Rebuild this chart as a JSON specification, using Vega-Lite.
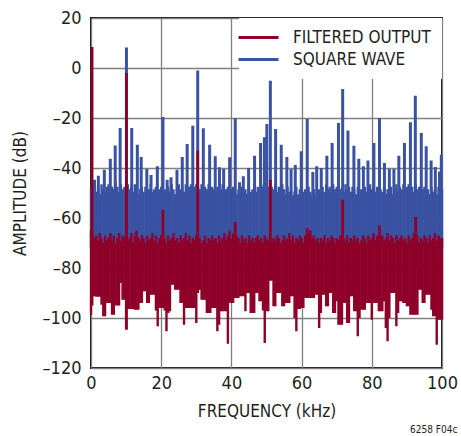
{
"$schema": "https://vega.github.io/schema/vega-lite/v6.json",
"width": 351, "height": 350,
"autosize": {"type": "none"},
"padding": {"left": 91, "top": 18, "right": 19, "bottom": 68},
"background": "white",
"title": {"text": "6258 F04c", "orient": "bottom", "anchor": "end", "fontSize": 10, "font": "DejaVu Sans Condensed, Liberation Sans, sans-serif", "fontWeight": "normal", "color": "#231f20", "offset": 6},
"config": {
  "view": {"stroke": "#111111", "strokeWidth": 2},
  "axis": {"grid": true, "gridColor": "#808080", "gridWidth": 1.3, "ticks": false, "domain": false, "labelFont": "DejaVu Sans Condensed, Liberation Sans, sans-serif", "labelFontSize": 18, "labelColor": "#231f20", "titleFont": "DejaVu Sans Condensed, Liberation Sans, sans-serif", "titleFontSize": 17, "titleFontWeight": "normal", "titleColor": "#231f20"},
  "legend": {"orient": "top-right", "offset": 0, "fillColor": "white", "padding": 11, "labelFont": "DejaVu Sans Condensed, Liberation Sans, sans-serif", "labelFontSize": 17, "labelColor": "#231f20", "labelLimit": 300, "symbolType": "M-4,0H4", "symbolStrokeWidth": 3, "symbolSize": 100, "labelOffset": 26, "rowPadding": 4}
},
"datasets": {
"squareFloor": [
{"f":0,"hi":-47.5},{"f":0.5,"hi":-46.5},{"f":1,"hi":-48.5},{"f":1.5,"hi":-49.5},{"f":2,"hi":-47.5},{"f":2.5,"hi":-50.5},{"f":3,"hi":-46.5},{"f":3.5,"hi":-48.5},{"f":4,"hi":-49.5},{"f":4.5,"hi":-47.5},
{"f":5,"hi":-46.5},{"f":5.5,"hi":-49.5},{"f":6,"hi":-47.5},{"f":6.5,"hi":-48.5},{"f":7,"hi":-45.5},{"f":7.5,"hi":-47.5},{"f":8,"hi":-49.5},{"f":8.5,"hi":-46.5},{"f":9,"hi":-48.5},{"f":9.5,"hi":-47.5},
{"f":10,"hi":-47.5},{"f":10.5,"hi":-46.5},{"f":11,"hi":-48.5},{"f":11.5,"hi":-47.5},{"f":12,"hi":-49.5},{"f":12.5,"hi":-46.5},{"f":13,"hi":-47.5},{"f":13.5,"hi":-50.5},{"f":14,"hi":-48.5},{"f":14.5,"hi":-47.5},
{"f":15,"hi":-49.5},{"f":15.5,"hi":-47.5},{"f":16,"hi":-50.5},{"f":16.5,"hi":-48.5},{"f":17,"hi":-46.5},{"f":17.5,"hi":-49.5},{"f":18,"hi":-48.5},{"f":18.5,"hi":-47.5},{"f":19,"hi":-50.5},{"f":19.5,"hi":-48.5},
{"f":20,"hi":-47.5},{"f":20.5,"hi":-49.5},{"f":21,"hi":-48.5},{"f":21.5,"hi":-50.5},{"f":22,"hi":-47.5},{"f":22.5,"hi":-49.5},{"f":23,"hi":-46.5},{"f":23.5,"hi":-48.5},{"f":24,"hi":-50.5},{"f":24.5,"hi":-48.5},
{"f":25,"hi":-46.5},{"f":25.5,"hi":-48.5},{"f":26,"hi":-47.5},{"f":26.5,"hi":-49.5},{"f":27,"hi":-46.5},{"f":27.5,"hi":-48.5},{"f":28,"hi":-47.5},{"f":28.5,"hi":-46.5},{"f":29,"hi":-48.5},{"f":29.5,"hi":-47.5},
{"f":30,"hi":-46.5},{"f":30.5,"hi":-47.5},{"f":31,"hi":-48.5},{"f":31.5,"hi":-46.5},{"f":32,"hi":-49.5},{"f":32.5,"hi":-47.5},{"f":33,"hi":-48.5},{"f":33.5,"hi":-46.5},{"f":34,"hi":-49.5},{"f":34.5,"hi":-47.5},
{"f":35,"hi":-48.5},{"f":35.5,"hi":-50.5},{"f":36,"hi":-47.5},{"f":36.5,"hi":-49.5},{"f":37,"hi":-48.5},{"f":37.5,"hi":-46.5},{"f":38,"hi":-50.5},{"f":38.5,"hi":-48.5},{"f":39,"hi":-47.5},{"f":39.5,"hi":-49.5},
{"f":40,"hi":-48.5},{"f":40.5,"hi":-47.5},{"f":41,"hi":-49.5},{"f":41.5,"hi":-50.5},{"f":42,"hi":-48.5},{"f":42.5,"hi":-51},{"f":43,"hi":-47.5},{"f":43.5,"hi":-49.5},{"f":44,"hi":-48.5},{"f":44.5,"hi":-50.5},
{"f":45,"hi":-47.5},{"f":45.5,"hi":-49.5},{"f":46,"hi":-48.5},{"f":46.5,"hi":-46.5},{"f":47,"hi":-49.5},{"f":47.5,"hi":-47.5},{"f":48,"hi":-48.5},{"f":48.5,"hi":-46.5},{"f":49,"hi":-47.5},{"f":49.5,"hi":-48.5},
{"f":50,"hi":-46.5},{"f":50.5,"hi":-47.5},{"f":51,"hi":-49.5},{"f":51.5,"hi":-47.5},{"f":52,"hi":-48.5},{"f":52.5,"hi":-46.5},{"f":53,"hi":-49.5},{"f":53.5,"hi":-47.5},{"f":54,"hi":-48.5},{"f":54.5,"hi":-46.5},
{"f":55,"hi":-48.5},{"f":55.5,"hi":-50.5},{"f":56,"hi":-47.5},{"f":56.5,"hi":-49.5},{"f":57,"hi":-48.5},{"f":57.5,"hi":-51},{"f":58,"hi":-49.5},{"f":58.5,"hi":-47.5},{"f":59,"hi":-50.5},{"f":59.5,"hi":-48.5},
{"f":60,"hi":-47.5},{"f":60.5,"hi":-49.5},{"f":61,"hi":-48.5},{"f":61.5,"hi":-50.5},{"f":62,"hi":-47.5},{"f":62.5,"hi":-49.5},{"f":63,"hi":-51},{"f":63.5,"hi":-48.5},{"f":64,"hi":-50.5},{"f":64.5,"hi":-49.5},
{"f":65,"hi":-48.5},{"f":65.5,"hi":-50.5},{"f":66,"hi":-47.5},{"f":66.5,"hi":-49.5},{"f":67,"hi":-46.5},{"f":67.5,"hi":-48.5},{"f":68,"hi":-47.5},{"f":68.5,"hi":-49.5},{"f":69,"hi":-46.5},{"f":69.5,"hi":-48.5},
{"f":70,"hi":-47.5},{"f":70.5,"hi":-46.5},{"f":71,"hi":-48.5},{"f":71.5,"hi":-47.5},{"f":72,"hi":-49.5},{"f":72.5,"hi":-46.5},{"f":73,"hi":-48.5},{"f":73.5,"hi":-47.5},{"f":74,"hi":-49.5},{"f":74.5,"hi":-47.5},
{"f":75,"hi":-48.5},{"f":75.5,"hi":-50.5},{"f":76,"hi":-47.5},{"f":76.5,"hi":-49.5},{"f":77,"hi":-48.5},{"f":77.5,"hi":-50.5},{"f":78,"hi":-47.5},{"f":78.5,"hi":-49.5},{"f":79,"hi":-48.5},{"f":79.5,"hi":-46.5},
{"f":80,"hi":-48.5},{"f":80.5,"hi":-47.5},{"f":81,"hi":-49.5},{"f":81.5,"hi":-47.5},{"f":82,"hi":-50.5},{"f":82.5,"hi":-48.5},{"f":83,"hi":-49.5},{"f":83.5,"hi":-47.5},{"f":84,"hi":-50.5},{"f":84.5,"hi":-48.5},
{"f":85,"hi":-49.5},{"f":85.5,"hi":-47.5},{"f":86,"hi":-50.5},{"f":86.5,"hi":-48.5},{"f":87,"hi":-46.5},{"f":87.5,"hi":-49.5},{"f":88,"hi":-47.5},{"f":88.5,"hi":-48.5},{"f":89,"hi":-46.5},{"f":89.5,"hi":-48.5},
{"f":90,"hi":-47.5},{"f":90.5,"hi":-46.5},{"f":91,"hi":-48.5},{"f":91.5,"hi":-47.5},{"f":92,"hi":-49.5},{"f":92.5,"hi":-46.5},{"f":93,"hi":-48.5},{"f":93.5,"hi":-47.5},{"f":94,"hi":-49.5},{"f":94.5,"hi":-48.5},
{"f":95,"hi":-47.5},{"f":95.5,"hi":-49.5},{"f":96,"hi":-48.5},{"f":96.5,"hi":-50.5},{"f":97,"hi":-47.5},{"f":97.5,"hi":-49.5},{"f":98,"hi":-48.5},{"f":98.5,"hi":-50.5},{"f":99,"hi":-47.5},{"f":99.5,"hi":-49.5},
{"f":100,"hi":-48.5}
],
"squareSpikes": [
{"f":1.0,"hi":-44.7},{"f":2.1,"hi":-43.1},{"f":3.8,"hi":-40.7},{"f":5.5,"hi":-36.3},{"f":6.9,"hi":-31},{"f":8.3,"hi":-24},{"f":10.1,"hi":8.2},{"f":11.6,"hi":-24},{"f":13.2,"hi":-30.7},{"f":14.3,"hi":-35.6},{"f":15.9,"hi":-40.4},
{"f":17.1,"hi":-42.8},{"f":18.9,"hi":-39.3},{"f":20.5,"hi":-19.6},{"f":21.7,"hi":-44.7},{"f":22.8,"hi":-43.7},{"f":24.5,"hi":-40.7},{"f":26,"hi":-35.6},{"f":27.4,"hi":-30.4},{"f":29,"hi":-23.1},{"f":30.4,"hi":-1},
{"f":32,"hi":-24.1},{"f":33.8,"hi":-30.7},{"f":35.4,"hi":-35.3},{"f":36.6,"hi":-39.7},{"f":37.8,"hi":-40.4},{"f":39.5,"hi":-35.7},{"f":41.1,"hi":-20.1},{"f":42.3,"hi":-45.7},{"f":43.4,"hi":-43.3},{"f":44.9,"hi":-40},
{"f":46.6,"hi":-35.1},{"f":48.3,"hi":-30},{"f":49.4,"hi":-27.7},{"f":50.1,"hi":-22.4},{"f":51.1,"hi":-5.1},{"f":52.6,"hi":-24.4},{"f":54.2,"hi":-30.7},{"f":55.8,"hi":-35.6},{"f":57,"hi":-40.4},{"f":58.2,"hi":-38.8},
{"f":59.9,"hi":-33.3},{"f":61.6,"hi":-20.4},{"f":63.2,"hi":-41.6},{"f":64.3,"hi":-39.3},{"f":65.6,"hi":-40},{"f":67.2,"hi":-35.1},{"f":68.7,"hi":-30},{"f":70.5,"hi":-22},{"f":71.7,"hi":-8.4},{"f":73.2,"hi":-25},
{"f":74.9,"hi":-31.1},{"f":76.3,"hi":-36.3},{"f":77.6,"hi":-39.3},{"f":78.9,"hi":-37},{"f":80.6,"hi":-30},{"f":82.2,"hi":-20},{"f":83.6,"hi":-38},{"f":85,"hi":-40.4},{"f":86.3,"hi":-40.4},{"f":87.7,"hi":-35.1},
{"f":89.3,"hi":-30},{"f":91,"hi":-21.7},{"f":92.4,"hi":-11.1},{"f":94.1,"hi":-26},{"f":95.5,"hi":-31.3},{"f":96.9,"hi":-37},{"f":98.1,"hi":-39.6},{"f":99.3,"hi":-41.4},{"f":99.8,"hi":-34.7}
],
"filteredFloor": [
{"f":0,"hi":-65,"lo":-98.7},{"f":0.5,"hi":-66,"lo":-91.3},{"f":1,"hi":-68,"lo":-91.3},{"f":1.5,"hi":-67,"lo":-91.5},{"f":2,"hi":-69,"lo":-91.5},{"f":2.5,"hi":-66,"lo":-91.5},{"f":3,"hi":-68,"lo":-94.7},{"f":3.5,"hi":-70,"lo":-99.3},{"f":4,"hi":-67,"lo":-99.3},{"f":4.5,"hi":-69,"lo":-94},
{"f":5,"hi":-68,"lo":-94},{"f":5.5,"hi":-66,"lo":-94},{"f":6,"hi":-69,"lo":-98.7},{"f":6.5,"hi":-67,"lo":-98.7},{"f":7,"hi":-70,"lo":-95},{"f":7.5,"hi":-68,"lo":-95},{"f":8,"hi":-66,"lo":-95},{"f":8.5,"hi":-69,"lo":-86},{"f":9,"hi":-67,"lo":-92.7},{"f":9.5,"hi":-68,"lo":-92.7},
{"f":10,"hi":-67,"lo":-104.4},{"f":10.5,"hi":-69,"lo":-96.4},{"f":11,"hi":-68,"lo":-96.4},{"f":11.5,"hi":-66,"lo":-96.4},{"f":12,"hi":-70,"lo":-96.4},{"f":12.5,"hi":-67,"lo":-96.7},{"f":13,"hi":-65,"lo":-96.7},{"f":13.5,"hi":-68,"lo":-96.7},{"f":14,"hi":-69,"lo":-94},{"f":14.5,"hi":-67,"lo":-94},
{"f":15,"hi":-68,"lo":-89.3},{"f":15.5,"hi":-70,"lo":-89.3},{"f":16,"hi":-67,"lo":-94},{"f":16.5,"hi":-69,"lo":-94},{"f":17,"hi":-68,"lo":-90.7},{"f":17.5,"hi":-66,"lo":-90.7},{"f":18,"hi":-69,"lo":-90.7},{"f":18.5,"hi":-67,"lo":-97},{"f":19,"hi":-70,"lo":-103.3},{"f":19.5,"hi":-68,"lo":-96},
{"f":20,"hi":-67,"lo":-96},{"f":20.5,"hi":-69,"lo":-96},{"f":21,"hi":-68,"lo":-97},{"f":21.5,"hi":-70,"lo":-105.3},{"f":22,"hi":-67,"lo":-98},{"f":22.5,"hi":-69,"lo":-97.3},{"f":23,"hi":-68,"lo":-86.7},{"f":23.5,"hi":-66,"lo":-86.7},{"f":24,"hi":-69,"lo":-88.7},{"f":24.5,"hi":-68,"lo":-88.7},
{"f":25,"hi":-70,"lo":-88.7},{"f":25.5,"hi":-67,"lo":-94},{"f":26,"hi":-69,"lo":-94},{"f":26.5,"hi":-68,"lo":-102.7},{"f":27,"hi":-66,"lo":-96},{"f":27.5,"hi":-69,"lo":-96},{"f":28,"hi":-67,"lo":-96},{"f":28.5,"hi":-70,"lo":-96},{"f":29,"hi":-68,"lo":-96},{"f":29.5,"hi":-69,"lo":-96},
{"f":30,"hi":-67,"lo":-102},{"f":30.5,"hi":-69,"lo":-88.7},{"f":31,"hi":-68,"lo":-88.7},{"f":31.5,"hi":-70,"lo":-92.7},{"f":32,"hi":-69,"lo":-92.7},{"f":32.5,"hi":-67,"lo":-92.7},{"f":33,"hi":-70,"lo":-98},{"f":33.5,"hi":-68,"lo":-98},{"f":34,"hi":-69,"lo":-98},{"f":34.5,"hi":-67,"lo":-96},
{"f":35,"hi":-69,"lo":-96},{"f":35.5,"hi":-68,"lo":-96},{"f":36,"hi":-70,"lo":-105.3},{"f":36.5,"hi":-67,"lo":-102.7},{"f":37,"hi":-69,"lo":-97.3},{"f":37.5,"hi":-68,"lo":-97.3},{"f":38,"hi":-66,"lo":-97.3},{"f":38.5,"hi":-69,"lo":-97.3},{"f":39,"hi":-67,"lo":-110.3},{"f":39.5,"hi":-65,"lo":-94},
{"f":40,"hi":-68,"lo":-94},{"f":40.5,"hi":-66,"lo":-94},{"f":41,"hi":-69,"lo":-92},{"f":41.5,"hi":-67,"lo":-92},{"f":42,"hi":-68,"lo":-92},{"f":42.5,"hi":-70,"lo":-91.3},{"f":43,"hi":-67,"lo":-91.3},{"f":43.5,"hi":-69,"lo":-91.3},{"f":44,"hi":-68,"lo":-97.3},{"f":44.5,"hi":-70,"lo":-90},
{"f":45,"hi":-67,"lo":-90},{"f":45.5,"hi":-69,"lo":-98},{"f":46,"hi":-68,"lo":-98},{"f":46.5,"hi":-70,"lo":-98},{"f":47,"hi":-68,"lo":-90},{"f":47.5,"hi":-67,"lo":-90},{"f":48,"hi":-69,"lo":-93.3},{"f":48.5,"hi":-68,"lo":-93.3},{"f":49,"hi":-70,"lo":-97},{"f":49.5,"hi":-67,"lo":-110},
{"f":50,"hi":-68,"lo":-97.3},{"f":50.5,"hi":-69,"lo":-97.3},{"f":51,"hi":-67,"lo":-85},{"f":51.5,"hi":-70,"lo":-85},{"f":52,"hi":-68,"lo":-95.3},{"f":52.5,"hi":-69,"lo":-95.3},{"f":53,"hi":-67,"lo":-90},{"f":53.5,"hi":-68,"lo":-90},{"f":54,"hi":-70,"lo":-90},{"f":54.5,"hi":-69,"lo":-95.3},
{"f":55,"hi":-67,"lo":-95.3},{"f":55.5,"hi":-69,"lo":-94},{"f":56,"hi":-68,"lo":-94},{"f":56.5,"hi":-66,"lo":-94},{"f":57,"hi":-69,"lo":-91.3},{"f":57.5,"hi":-67,"lo":-91.3},{"f":58,"hi":-70,"lo":-100},{"f":58.5,"hi":-68,"lo":-105.3},{"f":59,"hi":-69,"lo":-96.4},{"f":59.5,"hi":-67,"lo":-96.4},
{"f":60,"hi":-68,"lo":-96},{"f":60.5,"hi":-70,"lo":-96},{"f":61,"hi":-67,"lo":-92},{"f":61.5,"hi":-69,"lo":-92},{"f":62,"hi":-66,"lo":-92},{"f":62.5,"hi":-65,"lo":-92},{"f":63,"hi":-68,"lo":-92},{"f":63.5,"hi":-67,"lo":-92},{"f":64,"hi":-69,"lo":-90.7},{"f":64.5,"hi":-68,"lo":-90.7},
{"f":65,"hi":-70,"lo":-104},{"f":65.5,"hi":-68,"lo":-98},{"f":66,"hi":-69,"lo":-90.7},{"f":66.5,"hi":-67,"lo":-90.7},{"f":67,"hi":-70,"lo":-95.3},{"f":67.5,"hi":-68,"lo":-95.3},{"f":68,"hi":-69,"lo":-90},{"f":68.5,"hi":-67,"lo":-90},{"f":69,"hi":-68,"lo":-98},{"f":69.5,"hi":-70,"lo":-98},
{"f":70,"hi":-68,"lo":-93.3},{"f":70.5,"hi":-69,"lo":-102.7},{"f":71,"hi":-67,"lo":-102.7},{"f":71.5,"hi":-70,"lo":-102.7},{"f":72,"hi":-68,"lo":-94},{"f":72.5,"hi":-69,"lo":-94},{"f":73,"hi":-67,"lo":-102},{"f":73.5,"hi":-70,"lo":-102},{"f":74,"hi":-68,"lo":-91.3},{"f":74.5,"hi":-69,"lo":-91.3},
{"f":75,"hi":-67,"lo":-97.3},{"f":75.5,"hi":-69,"lo":-97.3},{"f":76,"hi":-68,"lo":-107.3},{"f":76.5,"hi":-70,"lo":-100},{"f":77,"hi":-69,"lo":-96.7},{"f":77.5,"hi":-67,"lo":-96.7},{"f":78,"hi":-68,"lo":-96.7},{"f":78.5,"hi":-70,"lo":-94},{"f":79,"hi":-67,"lo":-94},{"f":79.5,"hi":-69,"lo":-94},
{"f":80,"hi":-68,"lo":-100.7},{"f":80.5,"hi":-66,"lo":-94},{"f":81,"hi":-69,"lo":-94},{"f":81.5,"hi":-67,"lo":-94},{"f":82,"hi":-68,"lo":-97.3},{"f":82.5,"hi":-70,"lo":-97.3},{"f":83,"hi":-67,"lo":-97.3},{"f":83.5,"hi":-69,"lo":-93.3},{"f":84,"hi":-68,"lo":-104},{"f":84.5,"hi":-66,"lo":-109.3},
{"f":85,"hi":-69,"lo":-100},{"f":85.5,"hi":-67,"lo":-90},{"f":86,"hi":-68,"lo":-90},{"f":86.5,"hi":-70,"lo":-90},{"f":87,"hi":-67,"lo":-103.3},{"f":87.5,"hi":-69,"lo":-98},{"f":88,"hi":-68,"lo":-93.3},{"f":88.5,"hi":-67,"lo":-93.3},{"f":89,"hi":-69,"lo":-94},{"f":89.5,"hi":-68,"lo":-94},
{"f":90,"hi":-70,"lo":-95.3},{"f":90.5,"hi":-67,"lo":-95.3},{"f":91,"hi":-69,"lo":-98.7},{"f":91.5,"hi":-68,"lo":-98.7},{"f":92,"hi":-66,"lo":-98.7},{"f":92.5,"hi":-69,"lo":-98.7},{"f":93,"hi":-67,"lo":-98.7},{"f":93.5,"hi":-70,"lo":-88.7},{"f":94,"hi":-68,"lo":-88.7},{"f":94.5,"hi":-69,"lo":-94},
{"f":95,"hi":-67,"lo":-94},{"f":95.5,"hi":-68,"lo":-90.7},{"f":96,"hi":-70,"lo":-90.7},{"f":96.5,"hi":-67,"lo":-90.7},{"f":97,"hi":-69,"lo":-96.7},{"f":97.5,"hi":-68,"lo":-99.3},{"f":98,"hi":-66,"lo":-99.3},{"f":98.5,"hi":-69,"lo":-110.7},{"f":99,"hi":-67,"lo":-100.7},{"f":99.5,"hi":-68,"lo":-100.7},
{"f":100,"hi":-68,"lo":-100.7}
],
"filteredSpikes": [
{"f":0.3,"hi":8.4,"lo":-95},{"f":10.1,"hi":-2,"lo":-104.7},{"f":12.9,"hi":-65.7,"lo":-80},{"f":20.5,"hi":-56.7,"lo":-80},{"f":30.4,"hi":-33,"lo":-90},{"f":41.1,"hi":-61.6,"lo":-80},{"f":51.1,"hi":-44.7,"lo":-85},{"f":61.6,"hi":-64,"lo":-80},{"f":71.7,"hi":-52.7,"lo":-85},{"f":82.2,"hi":-63,"lo":-80},{"f":92.5,"hi":-59.6,"lo":-80}
]
},
"layer": [
{
  "data": {"name": "squareFloor"},
  "mark": {"type": "rule", "strokeWidth": 2.4},
  "encoding": {
    "x": {"field": "f", "type": "quantitative", "scale": {"domain": [0, 100]},
          "axis": {"title": "FREQUENCY (kHz)", "values": [0,10,20,30,40,50,60,70,80,90,100], "labelFlush": false, "labelOverlap": false, "labelPadding": 6, "titlePadding": 11}},
    "y": {"field": "hi", "type": "quantitative", "scale": {"domain": [-120, 20]},
          "axis": {"title": "AMPLITUDE (dB)", "values": [-120,-100,-80,-60,-40,-20,0,20], "labelExpr": "replace(datum.label, '\u2212', '\u2013')", "labelOverlap": false, "labelPadding": 10, "titlePadding": 13}},
    "y2": {"datum": -72},
    "color": {"datum": "SQUARE WAVE", "type": "nominal",
              "scale": {"domain": ["FILTERED OUTPUT", "SQUARE WAVE"], "range": ["#8e0028", "#3a52a2"]},
              "legend": {"title": null}}
  }
},
{
  "data": {"name": "squareSpikes"},
  "mark": {"type": "rule", "strokeWidth": 3},
  "encoding": {
    "x": {"field": "f", "type": "quantitative"},
    "y": {"field": "hi", "type": "quantitative"},
    "y2": {"datum": -72},
    "color": {"datum": "SQUARE WAVE", "type": "nominal"}
  }
},
{
  "data": {"name": "filteredFloor"},
  "mark": {"type": "rule", "strokeWidth": 2.4},
  "encoding": {
    "x": {"field": "f", "type": "quantitative"},
    "y": {"field": "hi", "type": "quantitative"},
    "y2": {"field": "lo"},
    "color": {"datum": "FILTERED OUTPUT", "type": "nominal"}
  }
},
{
  "data": {"name": "filteredSpikes"},
  "mark": {"type": "rule", "strokeWidth": 2.8},
  "encoding": {
    "x": {"field": "f", "type": "quantitative"},
    "y": {"field": "hi", "type": "quantitative"},
    "y2": {"field": "lo"},
    "color": {"datum": "FILTERED OUTPUT", "type": "nominal"}
  }
}
]
}
